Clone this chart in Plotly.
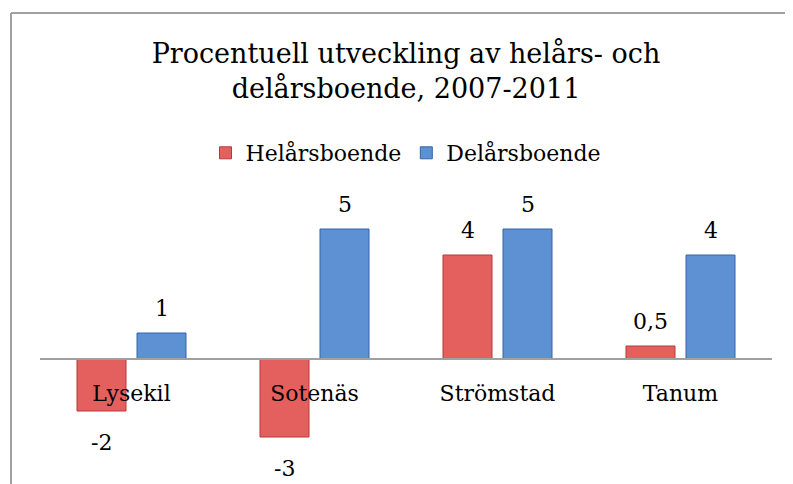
import plotly.graph_objects as go

categories = ["Lysekil", "Sotenäs", "Strömstad", "Tanum"]
helars = [-2, -3, 4, 0.5]
delars = [1, 5, 5, 4]
series_names = ["Helårsboende", "Delårsboende"]
title_text = "Procentuell utveckling av helårs- och<br>delårsboende, 2007-2011"

FONT = "DejaVu Serif"
W, H = 793, 484
OFF = 8  # page body margin offset
ML, MR, MT, MB = 40 - OFF, 29, 203 - OFF, 29
PW = W - ML - MR
PH = H - MT - MB
Y_RANGE = [-4, 6]

red = "#E4605F"
red_line = "#B8393A"
blue = "#5E90D4"
blue_line = "#3565A8"

bar_w = 49 / 183
half_gap = 30 / 183

fig = go.Figure()
fig.add_trace(go.Bar(
    x=categories, y=helars, name=series_names[0],
    width=bar_w, offset=-half_gap - bar_w / 2,
    marker=dict(color=red, line=dict(color=red_line, width=1)),
))
fig.add_trace(go.Bar(
    x=categories, y=delars, name=series_names[1],
    width=bar_w, offset=half_gap - bar_w / 2,
    marker=dict(color=blue, line=dict(color=blue_line, width=1)),
))


def fmt(v):
    return ("%g" % v).replace(".", ",")


annotations = []
for vals, xs in ((helars, -30), (delars, 30)):
    for c, v in zip(categories, vals):
        annotations.append(dict(
            x=c, y=v, xref="x", yref="y", text=fmt(v), showarrow=False,
            xshift=xs, yshift=25 if v >= 0 else -31, yanchor="middle",
            font=dict(family=FONT, size=22, color="#000000"),
        ))

zero_pos = (0 - Y_RANGE[0]) / (Y_RANGE[1] - Y_RANGE[0])


def px_x(p):
    return (p - OFF - ML) / PW


def px_y(p):
    return (H - MB - (p - OFF)) / PH


shapes = [
    dict(type="line", xref="paper", yref="paper", x0=px_x(11), x1=px_x(11),
         y0=px_y(13), y1=px_y(H + 10), line=dict(color="#A0A0A0", width=2)),
    dict(type="line", xref="paper", yref="paper", x0=px_x(11), x1=px_x(W + 10),
         y0=px_y(13), y1=px_y(13), line=dict(color="#A0A0A0", width=2)),
]

fig.update_layout(
    width=W, height=H,
    margin=dict(l=ML, r=MR, t=MT, b=MB),
    paper_bgcolor="white", plot_bgcolor="white",
    barmode="group",
    title=dict(text=title_text, x=0.5, xref="paper", xanchor="center",
               y=1 - 55 / H, yref="container", yanchor="top",
               font=dict(family=FONT, size=27, color="#000000")),
    legend=dict(orientation="h", x=0.5, xanchor="center", y=px_y(153), yanchor="middle",
                font=dict(family=FONT, size=22, color="#000000")),
    xaxis=dict(type="category", range=[-0.5, 3.5], anchor="free", position=zero_pos,
               showline=True, linecolor="#A0A0A0", linewidth=2, ticks="",
               showgrid=False, ticklabelstandoff=15,
               tickfont=dict(family=FONT, size=22, color="#000000"), layer="above traces"),
    yaxis=dict(range=Y_RANGE, visible=False, showgrid=False, zeroline=False),
    annotations=annotations,
    shapes=shapes,
    showlegend=True,
)

fig.write_html("out.html")
